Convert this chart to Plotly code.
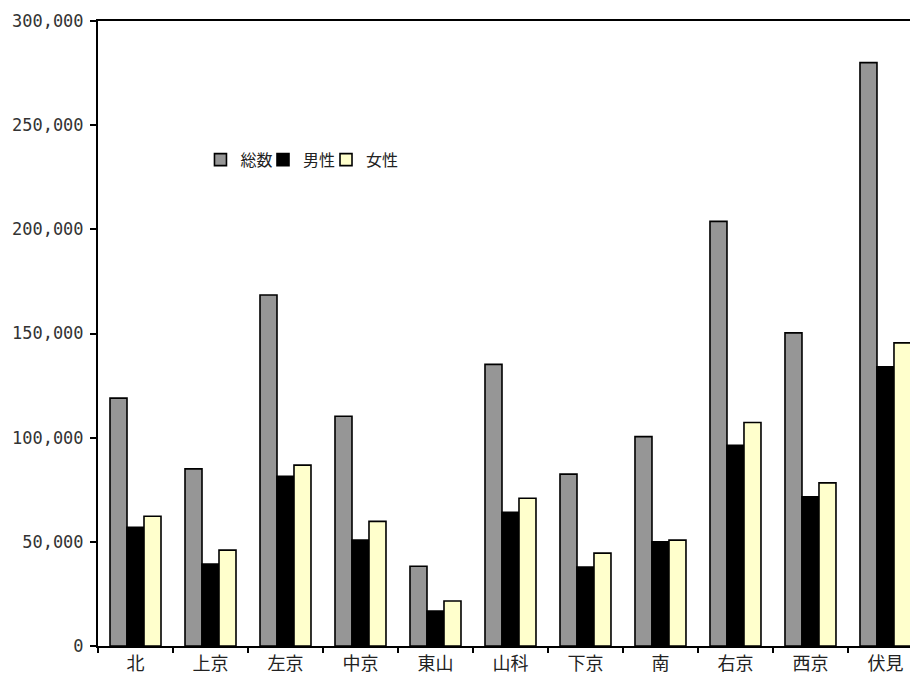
import plotly.graph_objects as go

wards = ["北", "上京", "左京", "中京", "東山", "山科", "下京", "南", "右京", "西京", "伏見"]
total = [119000, 85000, 168500, 110300, 38300, 135200, 82500, 100500, 203800, 150300, 280000]
male = [57000, 39300, 81500, 50800, 16800, 64200, 37900, 50000, 96300, 71600, 134000]
female = [62300, 46000, 86800, 59800, 21600, 70900, 44600, 50800, 107300, 78300, 145500]
y_ticks = [0, 50000, 100000, 150000, 200000, 250000, 300000]

series = [("総数", total, "#969696", "legend"),
          ("男性", male, "#000000", "legend2"),
          ("女性", female, "#FFFFCC", "legend3")]

fig = go.Figure()
for name, vals, col, lg in series:
    fig.add_trace(go.Bar(
        x=wards, y=vals, name=name, legend=lg,
        marker=dict(color=col, line=dict(color="#000000", width=1.6)),
    ))

legend_style = dict(
    orientation="h", y=0.778, xanchor="left", yanchor="middle",
    font=dict(size=16, family="Noto Sans CJK JP", color="#222222"),
    bgcolor="rgba(0,0,0,0)", itemwidth=30,
)
fig.update_layout(
    width=910, height=675,
    margin=dict(l=98, r=0, t=21, b=29, autoexpand=False),
    paper_bgcolor="white", plot_bgcolor="white",
    barmode="group", bargap=0.32, bargroupgap=0,
    font=dict(family="Noto Sans CJK JP", color="#222222", size=16),
    legend=dict(x=0.1262, **legend_style),
    legend2=dict(x=0.2032, **legend_style),
    legend3=dict(x=0.2808, **legend_style),
    showlegend=True,
)
fig.update_xaxes(
    type="category", range=[-0.5, 10.327], automargin=False,
    showline=True, linecolor="#000000", linewidth=2, mirror=True,
    ticks="outside", tickson="boundaries", ticklen=5, tickwidth=2, tickcolor="#000000",
    tickfont=dict(size=18, family="Noto Sans CJK JP", color="#222222"),
    ticklabelstandoff=0,
    showgrid=False, zeroline=False,
)
fig.update_yaxes(
    range=[0, 300000], tickvals=y_ticks, tickformat=",", automargin=False,
    showline=True, linecolor="#000000", linewidth=2,
    ticks="outside", ticklen=6, tickwidth=2, tickcolor="#000000",
    tickfont=dict(size=17, family="DejaVu Sans Mono", color="#333333"),
    ticklabelstandoff=3,
    showgrid=False, zeroline=False,
)

fig.write_html("out.html")
